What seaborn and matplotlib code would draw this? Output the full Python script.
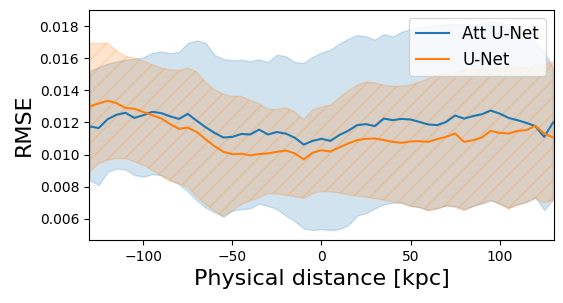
import numpy as np
import pandas as pd
import seaborn as sns
import matplotlib
matplotlib.use("Agg")
import matplotlib.pyplot as plt

# positions along the profile [kpc]
distance = list(range(-130, 131, 5))

# mean RMSE per model
att_mean = [0.01175, 0.01165, 0.01220, 0.01248, 0.01260, 0.01228, 0.01245, 0.01266, 0.01258, 0.01238,
            0.01222, 0.01253, 0.01210, 0.01170, 0.01135, 0.01106, 0.01110, 0.01128, 0.01125, 0.01155,
            0.01125, 0.01140, 0.01130, 0.01105, 0.01062, 0.01085, 0.01098, 0.01085, 0.01121, 0.01148,
            0.01183, 0.01189, 0.01177, 0.01224, 0.01214, 0.01222, 0.01218, 0.01203, 0.01187, 0.01183,
            0.01203, 0.01243, 0.01224, 0.01239, 0.01251, 0.01274, 0.01255, 0.01228, 0.01214, 0.01197,
            0.01177, 0.01110, 0.01200]
unet_mean = [0.01300, 0.01318, 0.01335, 0.01320, 0.01290, 0.01285, 0.01265, 0.01245, 0.01225, 0.01190,
             0.01160, 0.01168, 0.01140, 0.01095, 0.01052, 0.01017, 0.01002, 0.01005, 0.00995, 0.01003,
             0.01007, 0.01017, 0.01025, 0.01007, 0.00970, 0.01011, 0.01027, 0.01019, 0.01044, 0.01069,
             0.01090, 0.01098, 0.01100, 0.01090, 0.01079, 0.01073, 0.01081, 0.01083, 0.01079, 0.01096,
             0.01110, 0.01131, 0.01079, 0.01089, 0.01106, 0.01147, 0.01135, 0.01131, 0.01147, 0.01152,
             0.01179, 0.01131, 0.01106]

# band edges (mean +/- spread)
att_upper = [0.01520, 0.01545, 0.01566, 0.01580, 0.01590, 0.01597, 0.01605, 0.01632, 0.01642, 0.01630,
             0.01640, 0.01695, 0.01710, 0.01695, 0.01620, 0.01595, 0.01587, 0.01590, 0.01581, 0.01593,
             0.01576, 0.01622, 0.01612, 0.01576, 0.01570, 0.01608, 0.01635, 0.01653, 0.01690, 0.01721,
             0.01744, 0.01736, 0.01715, 0.01750, 0.01735, 0.01765, 0.01780, 0.01794, 0.01800, 0.01804,
             0.01810, 0.01815, 0.01808, 0.01805, 0.01820, 0.01835, 0.01820, 0.01810, 0.01770, 0.01740,
             0.01705, 0.01640, 0.01535]
att_lower = [0.00841, 0.00810, 0.00893, 0.00913, 0.00907, 0.00872, 0.00862, 0.00878, 0.00872, 0.00845,
             0.00815, 0.00770, 0.00715, 0.00670, 0.00640, 0.00613, 0.00650, 0.00660, 0.00665, 0.00695,
             0.00680, 0.00660, 0.00620, 0.00585, 0.00540, 0.00530, 0.00535, 0.00530, 0.00535, 0.00560,
             0.00620, 0.00635, 0.00665, 0.00690, 0.00700, 0.00700, 0.00680, 0.00672, 0.00655, 0.00665,
             0.00683, 0.00680, 0.00660, 0.00680, 0.00695, 0.00715, 0.00695, 0.00670, 0.00690, 0.00705,
             0.00735, 0.00655, 0.00720]
unet_upper = [0.01691, 0.01692, 0.01694, 0.01645, 0.01612, 0.01600, 0.01582, 0.01560, 0.01538, 0.01528,
              0.01522, 0.01538, 0.01515, 0.01450, 0.01405, 0.01375, 0.01362, 0.01363, 0.01338, 0.01317,
              0.01282, 0.01280, 0.01292, 0.01266, 0.01218, 0.01276, 0.01297, 0.01307, 0.01355, 0.01396,
              0.01431, 0.01452, 0.01446, 0.01431, 0.01425, 0.01425, 0.01433, 0.01452, 0.01473, 0.01494,
              0.01504, 0.01514, 0.01525, 0.01529, 0.01529, 0.01533, 0.01541, 0.01545, 0.01545, 0.01541,
              0.01556, 0.01560, 0.01580]
unet_lower = [0.00893, 0.00944, 0.00965, 0.00975, 0.00975, 0.00955, 0.00934, 0.00903, 0.00866, 0.00831,
              0.00820, 0.00795, 0.00740, 0.00688, 0.00648, 0.00617, 0.00650, 0.00690, 0.00712, 0.00730,
              0.00758, 0.00755, 0.00745, 0.00738, 0.00727, 0.00755, 0.00770, 0.00768, 0.00760, 0.00750,
              0.00740, 0.00735, 0.00725, 0.00715, 0.00705, 0.00698, 0.00678, 0.00670, 0.00650, 0.00663,
              0.00680, 0.00670, 0.00650, 0.00675, 0.00695, 0.00715, 0.00690, 0.00660, 0.00685, 0.00700,
              0.00725, 0.00700, 0.00715]

df = pd.DataFrame({"x": distance, "att": att_mean, "unet": unet_mean})

fig, ax = plt.subplots(figsize=(5.63, 3.03), dpi=100)
fig.subplots_adjust(left=0.158, right=0.984, top=0.967, bottom=0.208)

# spread bands
ax.fill_between(distance, att_lower, att_upper, color="C0", alpha=0.2)
ax.fill_between(distance, unet_lower, unet_upper, color="C1", alpha=0.2, hatch="//")

sns.lineplot(data=df, x="x", y="att", ax=ax, color="C0", label="Att U-Net", linewidth=1.5)
sns.lineplot(data=df, x="x", y="unet", ax=ax, color="C1", label="U-Net", linewidth=1.5)

ax.set_xlim(-130.5, 130.5)
ax.set_ylim(0.00468, 0.0190)
ax.set_yticks([0.006, 0.008, 0.010, 0.012, 0.014, 0.016, 0.018])
ax.set_xlabel("Physical distance [kpc]", fontsize=16)
ax.set_ylabel("RMSE", fontsize=16)
ax.legend(loc="upper right", fontsize=12)

plt.savefig("out.png", dpi=100)
plt.close()
